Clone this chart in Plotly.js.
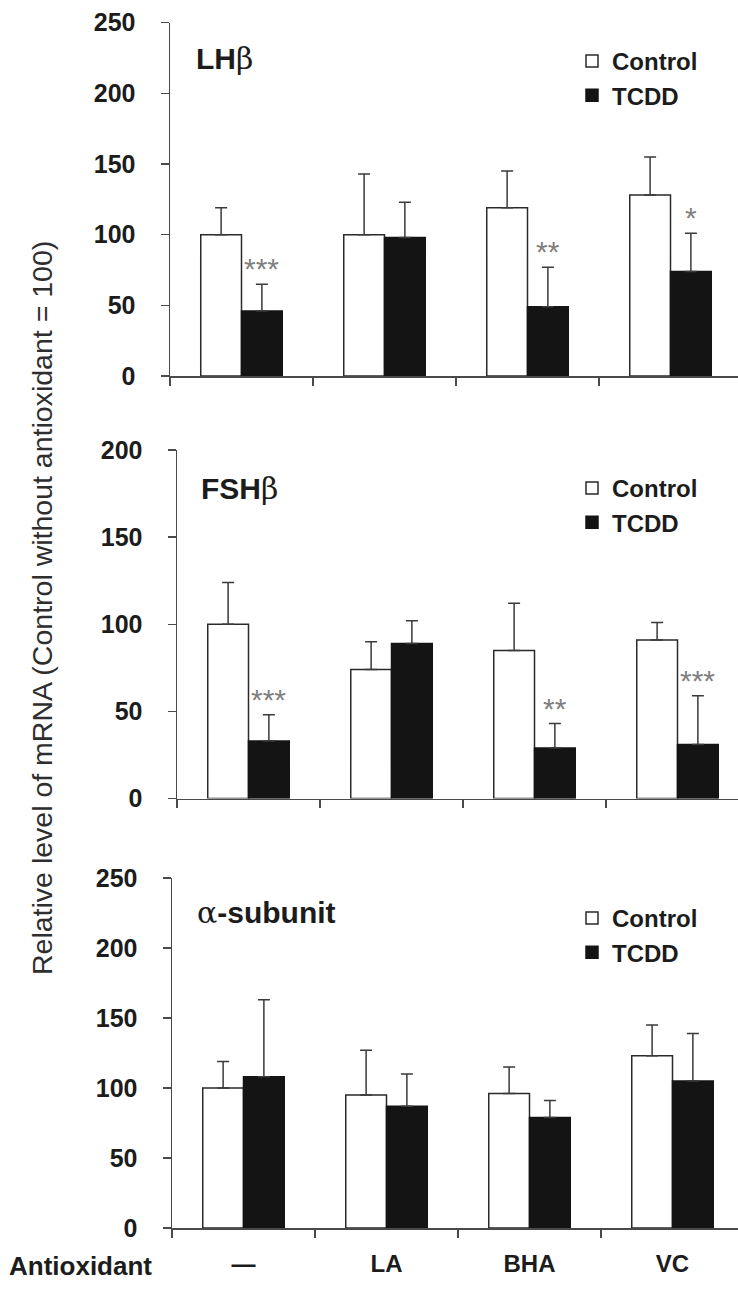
<!DOCTYPE html>
<html>
<head>
<meta charset="utf-8">
<script src="https://cdn.plot.ly/plotly-3.0.1.min.js"></script>
<style>
  html, body { margin: 0; padding: 0; background: #fff; }
  #chart { width: 738px; height: 1289px; }
</style>
</head>
<body>
<div id="chart"></div>
<script>
// Antioxidant groups along the bottom axis
const categories = ['—', 'LA', 'BHA', 'VC'];
const groupIndex = [0, 1, 2, 3];

// LHβ mRNA (mean and upper SEM)
const lhControl = [100, 100, 119, 128];
const lhControlErr = [19, 43, 26, 27];
const lhTcdd = [46, 98, 49, 74];
const lhTcddErr = [19, 25, 28, 27];
const lhStars = ['***', '', '**', '*'];

// FSHβ mRNA
const fshControl = [100, 74, 85, 91];
const fshControlErr = [24, 16, 27, 10];
const fshTcdd = [33, 89, 29, 31];
const fshTcddErr = [15, 13, 14, 28];
const fshStars = ['***', '', '**', '***'];

// α-subunit mRNA
const aControl = [100, 95, 96, 123];
const aControlErr = [19, 32, 19, 22];
const aTcdd = [108, 87, 79, 105];
const aTcddErr = [55, 23, 12, 34];
const aStars = ['', '', '', ''];

const panelNames = ['LH<span style="font-family:\'DejaVu Serif\';font-weight:normal">β</span>',
                    'FSH<span style="font-family:\'DejaVu Serif\';font-weight:normal">β</span>',
                    '<span style="font-family:\'DejaVu Serif\';font-weight:normal">α</span>-subunit'];
const yMax = [250, 200, 250];
const seriesNames = ['Control', 'TCDD'];

const W = 738, H = 1289;
const FONT = 'Liberation Sans, Arial, Helvetica, sans-serif';
const INK = '#1c1c1c';
const AXIS = '#4a4a4a';

// pixel geometry of the three stacked panels
const panels = [
  { left: 170, top: 22.7, bottom: 376, legendTop: 39, titleY: 58, titleX: 194 },
  { left: 177, top: 450, bottom: 798.5, legendTop: 466, titleY: 488, titleX: 199 },
  { left: 172, top: 878, bottom: 1228, legendTop: 896, titleY: 912, titleX: 195 }
];
const catWidth = 143;

const data = [
  [lhControl, lhControlErr, lhTcdd, lhTcddErr],
  [fshControl, fshControlErr, fshTcdd, fshTcddErr],
  [aControl, aControlErr, aTcdd, aTcddErr]
];
const stars = [lhStars, fshStars, aStars];

const traces = [];
const layout = {
  width: W, height: H,
  margin: { l: 0, r: 0, t: 0, b: 0 },
  paper_bgcolor: '#fff', plot_bgcolor: '#fff',
  barmode: 'group', bargap: 0.43, bargroupgap: 0,
  font: { family: FONT, color: INK },
  annotations: []
};

const px = x => x / W;
const py = y => 1 - y / H;

panels.forEach((p, k) => {
  const sfx = k === 0 ? '' : String(k + 1);
  const xa = 'x' + sfx, ya = 'y' + sfx;
  const legendId = 'legend' + sfx;
  const [cMean, cErr, tMean, tErr] = data[k];

  traces.push({
    type: 'bar', name: seriesNames[0], x: groupIndex, y: cMean,
    xaxis: xa, yaxis: ya, legend: legendId, legendgroup: 'c' + k,
    marker: { color: '#ffffff', line: { color: '#2a2a2a', width: 1.5 } },
    error_y: { type: 'data', symmetric: false, array: cErr, arrayminus: cErr.map(() => 0),
               color: '#3a3a3a', thickness: 1.5, width: 6 },
    hoverinfo: 'y'
  });
  traces.push({
    type: 'bar', name: seriesNames[1], x: groupIndex, y: tMean,
    xaxis: xa, yaxis: ya, legend: legendId, legendgroup: 't' + k,
    marker: { color: '#141414', line: { color: '#141414', width: 1.5 } },
    error_y: { type: 'data', symmetric: false, array: tErr, arrayminus: tErr.map(() => 0),
               color: '#3a3a3a', thickness: 1.5, width: 6 },
    hoverinfo: 'y'
  });

  const xEnd = -0.5 + (W - p.left) / catWidth;
  layout['xaxis' + sfx] = {
    domain: [px(p.left), 1], anchor: ya, range: [-0.5, xEnd],
    showline: true, linecolor: AXIS, linewidth: 1.5,
    showgrid: false, zeroline: false,
    tickmode: 'array', tickvals: groupIndex, ticktext: categories,
    ticks: '', showticklabels: k === 2,
    tickfont: { family: FONT, size: 24, weight: 'bold', color: INK },
    ticklabelstandoff: 14,
    minor: { tick0: -0.5, dtick: 1, ticks: 'outside', ticklen: 8, tickwidth: 1.5, tickcolor: AXIS, showgrid: false },
    fixedrange: true
  };
  layout['yaxis' + sfx] = {
    domain: [py(p.bottom), py(p.top)], anchor: xa, range: [0, yMax[k]],
    tick0: 0, dtick: 50,
    showline: true, linecolor: AXIS, linewidth: 1.5,
    showgrid: false, zeroline: false,
    ticks: 'outside', ticklen: 8, tickwidth: 1.5, tickcolor: AXIS,
    tickfont: { family: FONT, size: 25, weight: 'bold', color: INK },
    ticklabelstandoff: 20,
    fixedrange: true
  };
  layout[legendId] = {
    x: px(572), y: py(p.legendTop), xanchor: 'left', yanchor: 'top',
    bgcolor: 'rgba(0,0,0,0)', borderwidth: 0,
    font: { family: FONT, size: 24, weight: 'bold', color: INK },
    traceorder: 'grouped', tracegroupgap: 0, itemwidth: 30
  };

  // panel title
  layout.annotations.push({
    xref: 'paper', yref: 'paper', x: px(p.titleX), y: py(p.titleY),
    xanchor: 'left', yanchor: 'middle', showarrow: false,
    text: '<b>' + panelNames[k] + '</b>',
    font: { family: FONT, size: 30, color: INK }
  });

  // significance marks above the TCDD bars
  stars[k].forEach((s, i) => {
    if (!s) return;
    layout.annotations.push({
      xref: xa, yref: ya, x: i + 0.1425, y: tMean[i] + tErr[i],
      xanchor: 'center', yanchor: 'bottom', showarrow: false, yshift: -3,
      text: s, font: { family: FONT, size: 30, color: '#808080' }
    });
  });
});

// shared y-axis title
layout.annotations.push({
  xref: 'paper', yref: 'paper', x: px(42), y: py(608),
  xanchor: 'center', yanchor: 'middle', showarrow: false, textangle: -90,
  text: 'Relative level of mRNA (Control without antioxidant = 100)',
  font: { family: FONT, size: 28.5, color: '#2e2e2e' }
});

// x-axis row heading
layout.annotations.push({
  xref: 'paper', yref: 'paper', x: px(7), y: py(1266),
  xanchor: 'left', yanchor: 'middle', showarrow: false,
  text: '<b>Antioxidant</b>',
  font: { family: FONT, size: 26, color: INK }
});

Plotly.newPlot('chart', traces, layout, { displayModeBar: false, staticPlot: true });
</script>
</body>
</html>
